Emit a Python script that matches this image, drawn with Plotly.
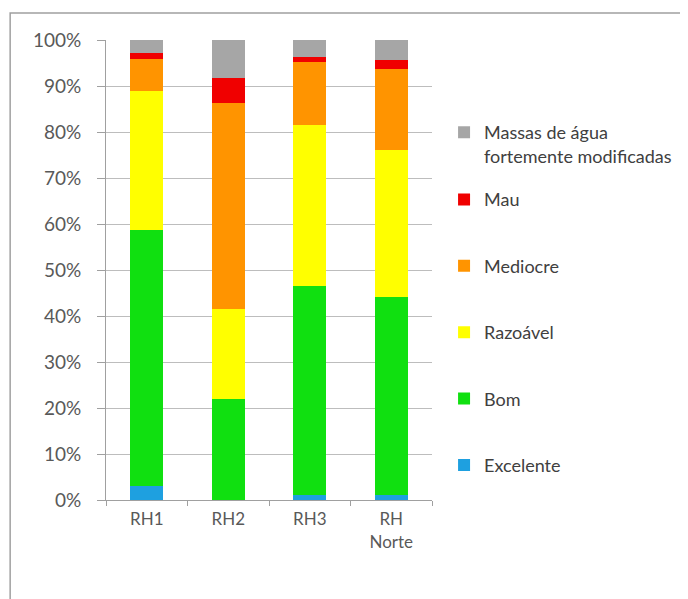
import plotly.graph_objects as go

categories = ["RH1", "RH2", "RH3", "RH<br>Norte"]
excelente = [3.0, 0.0, 1.0, 1.0]
bom = [55.7, 22.0, 45.5, 43.1]
razoavel = [30.2, 19.5, 35.0, 32.0]
mediocre = [6.9, 44.7, 13.8, 17.7]
mau = [1.4, 5.6, 1.1, 1.9]
massas = [2.8, 8.2, 3.6, 4.3]

series = [
    ("Excelente", excelente, "#1EA0E0", "legend"),
    ("Bom", bom, "#10E010", "legend"),
    ("Razoável", razoavel, "#FFFF00", "legend"),
    ("Mediocre", mediocre, "#FF9400", "legend"),
    ("Mau", mau, "#F00000", "legend"),
    ("Massas de água<br>fortemente modificadas", massas, "#A6A6A6", "legend2"),
]

fig = go.Figure()
n = len(series)
for i, (name, vals, col, lg) in enumerate(series):
    fig.add_trace(go.Bar(x=categories, y=vals, name=name, marker_color=col,
                         marker_line_width=0, legendgroup=str(i),
                         legendrank=n - i, legend=lg))

fnt = dict(family="Lato, Open Sans, sans-serif", size=17, color="#595959")
lfont = dict(family="Lato, Open Sans, sans-serif", size=18, color="#404040")
fig.update_layout(
    barmode="stack", bargap=0.6,
    width=688, height=599,
    margin=dict(l=98, r=264, t=32, b=107),
    paper_bgcolor="white", plot_bgcolor="white",
    font=fnt,
    showlegend=True,
    legend=dict(traceorder="grouped", tracegroupgap=40, valign="top",
                x=1.037, xanchor="left", y=0.693, yanchor="top",
                font=lfont, itemwidth=30),
    legend2=dict(traceorder="grouped", valign="top",
                 x=1.037, xanchor="left", y=0.839, yanchor="top",
                 font=lfont, itemwidth=30),
    xaxis=dict(showline=True, linecolor="#A0A0A0", ticks="outside", tickson="boundaries",
               ticklen=5, tickcolor="#A0A0A0", showgrid=False, tickfont=fnt,
               ticklabelstandoff=4),
    yaxis=dict(range=[0, 100], dtick=10, ticksuffix="%", showline=True,
               linecolor="#A0A0A0", ticks="outside", ticklen=8, tickcolor="#A0A0A0",
               gridcolor="#BDBDBD", gridwidth=1, zeroline=False,
               tickfont=dict(family="Lato, Open Sans, sans-serif", size=19, color="#595959"),
               ticklabelstandoff=12),
    shapes=[dict(type="rect", xref="paper", yref="paper",
                 x0=-0.294, x1=1.9, y0=-0.3, y1=1.0587,
                 line=dict(color="#A0A0A0", width=1.5))],
)
fig.write_html("out.html")
